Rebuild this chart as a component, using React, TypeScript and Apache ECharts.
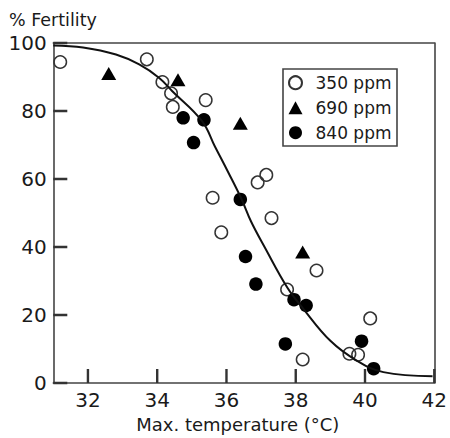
import React, { useEffect, useRef } from "react";
import * as echarts from "echarts";

const xTicks = [32, 34, 36, 38, 40, 42];
const yTicks = [0, 20, 40, 60, 80, 100];

const seriesNames = ["350 ppm", "690 ppm", "840 ppm"];

const open350: [number, number][] = [
  [31.2, 94.4], [33.7, 95.2], [34.15, 88.5], [34.4, 85.2], [34.45, 81.2],
  [35.4, 83.2], [35.6, 54.5], [35.85, 44.3], [36.9, 59], [37.15, 61.2],
  [37.3, 48.5], [37.75, 27.5], [38.2, 6.9], [38.6, 33.1], [39.55, 8.6],
  [39.8, 8.3], [40.15, 19],
];

const tri690: [number, number][] = [
  [32.6, 91], [34.6, 89.2], [36.4, 76.4], [38.2, 38.5],
];

const filled840: [number, number][] = [
  [34.75, 78], [35.05, 70.7], [35.35, 77.4], [36.4, 54], [36.55, 37.2],
  [36.85, 29.1], [37.7, 11.5], [37.95, 24.5], [38.3, 22.8], [39.9, 12.3],
  [40.25, 4.2],
];

const curveX = [31, 31.86, 32.81, 33.48, 34.05, 34.43, 35.29, 35.67, 36.05, 36.43, 36.71, 37.1, 37.76, 38.19, 39, 39.76, 40.53, 41.95];
const curveY = [99.3, 98.7, 96.6, 93.7, 89.8, 85.9, 77.1, 69.5, 62, 54.2, 47.5, 40, 28, 22.2, 12.4, 6.6, 3.2, 2.0];

const FONT = "DejaVu Sans";
const INK = "#1a1a1a";
const FRAME = "#444";
const TICK_COLOR = "#333";
const TICK_LEN = 14;
const TICK_W = 2.4;

export default function App() {
  const ref = useRef<HTMLDivElement>(null);

  useEffect(() => {
    if (!ref.current) return;
    const chart = echarts.init(ref.current, null, { renderer: "svg" });
    const curve = curveX.map((x, i) => [x, curveY[i]]);
    const frameAxis = {
      type: "value",
      axisLine: { show: true, onZero: false, lineStyle: { color: FRAME, width: 1.6 } },
      axisTick: { show: false },
      axisLabel: { show: false },
      splitLine: { show: false },
    };
    chart.setOption({
      animation: false,
      backgroundColor: "#fff",
      textStyle: { fontFamily: FONT, color: INK },
      grid: { left: 53.3, right: 11.7, top: 43, bottom: 52, show: false },
      graphic: [
        {
          type: "rect",
          shape: { x: 283, y: 69, width: 114, height: 77 },
          style: { fill: "#fff", stroke: FRAME, lineWidth: 1.6 },
          z: 5,
        },
        {
          type: "text",
          left: 9,
          top: 11,
          style: { text: "% Fertility", fontFamily: FONT, fontSize: 17.5, fill: INK },
        },
      ],
      legend: {
        orient: "vertical",
        left: 288,
        top: 73.7,
        padding: 0,
        itemGap: 7,
        itemWidth: 14,
        itemHeight: 13,
        z: 10,
        data: seriesNames,
        selectedMode: false,
        textStyle: { fontFamily: FONT, fontSize: 17, color: INK, lineHeight: 18, padding: [0, 0, 0, 8] },
      },
      xAxis: [
        {
          type: "value",
          position: "bottom",
          min: 31,
          max: 42,
          interval: 1,
          name: "Max. temperature (°C)",
          nameLocation: "middle",
          nameGap: 32,
          nameTextStyle: { fontFamily: FONT, fontSize: 18, color: INK, padding: [0, 12, 0, 0] },
          axisLine: { show: true, onZero: false, lineStyle: { color: FRAME, width: 1.6 } },
          axisTick: { show: false },
          axisLabel: { customValues: xTicks, fontFamily: FONT, fontSize: 20, color: INK, margin: 7 },
          splitLine: { show: false },
        },
        { ...frameAxis, position: "top", min: 31, max: 42 },
      ],
      yAxis: [
        {
          type: "value",
          position: "left",
          min: 0,
          max: 100,
          interval: 20,
          axisLine: { show: true, onZero: false, lineStyle: { color: FRAME, width: 1.6 } },
          axisTick: { show: false },
          axisLabel: { fontFamily: FONT, fontSize: 20, color: INK, margin: 6.5 },
          splitLine: { show: false },
        },
        { ...frameAxis, position: "right", min: 0, max: 100 },
      ],
      series: [
        {
          name: "xTicks",
          type: "custom",
          z: 10,
          data: xTicks.map((v) => [v, 0]),
          renderItem: (params: any, api: any) => {
            const p = api.coord([api.value(0), api.value(1)]);
            return {
              type: "rect",
              shape: { x: p[0] - TICK_W / 2, y: p[1] - TICK_LEN, width: TICK_W, height: TICK_LEN },
              style: { fill: TICK_COLOR },
            };
          },
        },
        {
          name: "yTicks",
          type: "custom",
          z: 10,
          data: yTicks.map((v) => [31, v]),
          renderItem: (params: any, api: any) => {
            const p = api.coord([api.value(0), api.value(1)]);
            return {
              type: "rect",
              shape: { x: p[0], y: p[1] - TICK_W / 2, width: TICK_LEN, height: TICK_W },
              style: { fill: TICK_COLOR },
            };
          },
        },
        {
          name: seriesNames[0],
          type: "scatter",
          data: open350,
          symbol: "circle",
          symbolSize: 12.5,
          itemStyle: { color: "rgba(255,255,255,0)", borderColor: "#333", borderWidth: 1.5, opacity: 1 },
          z: 2,
        },
        {
          name: seriesNames[1],
          type: "scatter",
          data: tri690,
          symbol: "triangle",
          symbolSize: [15, 13],
          itemStyle: { color: "#000", opacity: 1 },
          z: 2,
        },
        {
          name: seriesNames[2],
          type: "scatter",
          data: filled840,
          symbol: "circle",
          symbolSize: 13.5,
          itemStyle: { color: "#000", opacity: 1 },
          z: 2,
        },
        {
          name: "fit",
          type: "line",
          data: curve,
          smooth: 0.4,
          showSymbol: false,
          symbol: "none",
          lineStyle: { color: "#111", width: 2 },
          z: 3,
        },
      ],
    });
    return () => chart.dispose();
  }, []);

  return (
    <div
      ref={ref}
      style={{ position: "fixed", left: 0, top: 0, width: 450, height: 438 }}
    />
  );
}
